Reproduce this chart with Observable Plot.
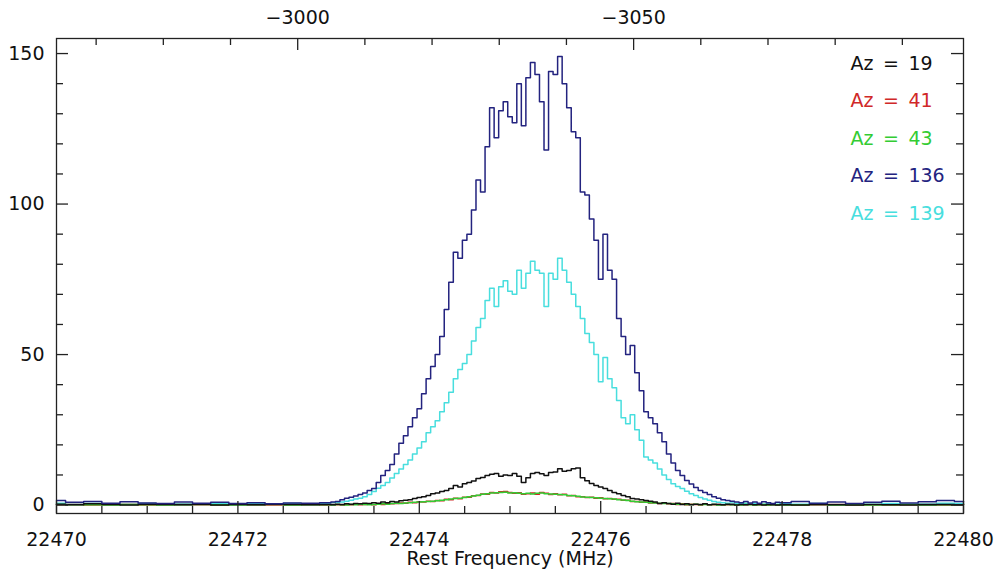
<!DOCTYPE html>
<html>
<head>
<meta charset="utf-8">
<script src="https://cdn.jsdelivr.net/npm/d3@7"></script>
<script src="https://cdn.jsdelivr.net/npm/@observablehq/plot@0.6"></script>
<style>
  html, body { margin: 0; padding: 0; background: #fff; }
</style>
</head>
<body>
<div id="chart"></div>
<script>
// ---------- DATA ----------
// Series names (azimuth) and colours
const seriesNames = ["Az = 139", "Az = 41", "Az = 43", "Az = 19", "Az = 136"];
const legendOrder = ["Az = 19", "Az = 41", "Az = 43", "Az = 136", "Az = 139"];
const seriesColors = {
  "Az = 19": "#111111",
  "Az = 41": "#d02828",
  "Az = 43": "#33cc33",
  "Az = 136": "#23237f",
  "Az = 139": "#48dede"
};

// Channel grids (MHz): coarse baseline channels on both sides, fine channels in the line core
const leftBaseStart = 22470, leftBaseStep = 0.2, leftBaseCount = 15;
const coreStart = 22473, coreStep = 0.05, coreCount = 100;
const rightBaseStart = 22478, rightBaseStep = 0.2, rightBaseCount = 11;

// Az = 136 (dark blue)
const az136Left = [1.5, 0.9, 1.2, 0.6, 1.1, 0.7, 0.5, 1.0, 0.6, 0.9, 0.5, 0.8, 0.4, 0.7, 0.6];
const az136Core = [
  0.8, 1.0, 1.2, 1.8, 2.3, 2.6, 3.0, 3.5, 4.0, 4.8,
  5.5, 7.5, 9.8, 11.5, 13.5, 17, 20.5, 23, 26, 29,
  32, 37, 42, 46, 50, 56, 65, 74, 84, 82,
  88, 90, 98, 108, 104, 119, 132, 122, 131, 134,
  129, 127, 140, 126, 142, 147, 143, 134, 118, 144,
  143, 149, 140, 132, 124, 122, 104, 103, 95, 88,
  75, 90, 78, 75, 62, 56, 50, 53, 44, 38,
  31, 29, 27, 24, 21, 17, 14, 11.5, 9.8, 8.2,
  7.0, 5.8, 4.8, 4.2, 3.5, 2.8, 2.3, 1.8, 1.5, 1.3,
  1.0, 0.8, 1.2, 0.7, 1.0, 0.6, 1.1, 0.8, 0.5, 0.9
];
const az136Right = [0.8, 1.2, 0.6, 1.0, 0.5, 0.9, 1.3, 0.7, 1.1, 1.5, 1.2];

// Az = 139 (cyan)
const az139Left = [0.6, 0.3, 0.5, 0.4, 0.2, 0.5, 0.3, 0.4, 0.2, 0.5, 0.3, 0.4, 0.3, 0.5, 0.4];
const az139Core = [
  0.6, 0.8, 0.9, 1.0, 1.3, 1.6, 2.0, 2.3, 2.8, 3.5,
  4.5, 5.6, 6.5, 7.5, 9.0, 10.5, 12, 13.5, 15, 17,
  19, 21, 24, 26, 28, 31, 34, 37.5, 42, 45,
  47, 50, 54.5, 59, 62, 68, 72, 66, 72.5, 74.5,
  71, 70, 78, 72, 77, 81, 78, 77, 66, 77,
  75, 82, 78, 74, 70, 66, 62, 57, 54, 50,
  41, 49, 42, 39, 34.7, 29, 27, 30, 25, 21.5,
  16, 15, 14, 12, 10, 8.5, 7.1, 6.2, 5.5, 4.6,
  3.8, 3.2, 2.5, 2.0, 1.6, 1.2, 0.9, 0.8, 0.6, 0.7,
  0.5, 0.4, 0.6, 0.3, 0.5, 0.4, 0.3, 0.5, 0.4, 0.3
];
const az139Right = [0.4, 0.3, 0.5, 0.2, 0.4, 0.3, 0.5, 0.3, 0.4, 0.6, 0.5];

// Az = 19 (black)
const az19Left = [0.3, 0.1, 0.4, 0.2, 0.0, 0.3, 0.2, 0.1, 0.3, 0.0, 0.2, 0.1, 0.3, 0.2, 0.1];
const az19Core = [
  0.2, 0.1, 0.3, 0.2, 0.4, 0.3, 0.5, 0.4, 0.6, 0.5,
  0.8, 0.6, 1.0, 0.8, 1.2, 1.0, 1.4, 1.6, 1.8, 2.2,
  2.5, 2.8, 3.2, 3.8, 4.0, 4.5, 4.8, 5.5, 6.5, 6.0,
  7.1, 7.5, 8.0, 8.8, 9.2, 9.8, 10.2, 10.5, 9.6, 10.0,
  9.8, 10.5, 9.6, 7.5, 9.1, 10.5, 10.8, 10.4, 9.8, 10.8,
  11.0, 12.1, 11.2, 11.5, 12.1, 12.3, 9.1, 8.1, 7.2, 6.5,
  6.0, 5.5, 4.8, 4.2, 3.8, 3.2, 2.8, 2.2, 2.0, 1.8,
  1.5, 1.3, 1.0, 0.5, 0.8, 0.5, 0.3, 0.6, 0.2, 0.4,
  0.1, 0.3, 0.2, 0.4, 0.1, 0.3, 0.2, 0.1, 0.3, 0.2,
  0.0, 0.2, 0.1, 0.3, 0.1, 0.2, 0.0, 0.2, 0.1, 0.0
];
const az19Right = [0.1, 0.0, 0.2, 0.1, 0.0, 0.2, 0.1, 0.0, 0.1, 0.2, 0.1];

// Az = 41 (red)
const az41Left = [0.1, 0.2, 0.0, 0.1, 0.2, 0.0, 0.1, 0.2, 0.1, 0.0, 0.2, 0.1, 0.0, 0.1, 0.2];
const az41Core = [
  0.0, 0.2, 0.1, 0.0, 0.2, 0.1, 0.3, 0.1, 0.2, 0.3,
  0.1, 0.4, 0.2, 0.5, 0.4, 0.5, 0.7, 0.6, 0.9, 0.8,
  1.1, 1.0, 1.3, 1.2, 1.5, 1.4, 1.9, 1.8, 2.3, 2.1,
  2.6, 2.6, 3.1, 3.2, 3.7, 3.6, 4.2, 4.0, 4.4, 4.5,
  4.2, 3.9, 4.1, 3.6, 3.8, 4.0, 3.6, 4.2, 3.9, 3.5,
  3.8, 3.4, 3.6, 3.1, 3.2, 2.8, 2.8, 2.5, 2.6, 2.3,
  2.4, 2.1, 2.2, 1.9, 1.9, 1.6, 1.6, 1.2, 1.2, 0.9,
  1.0, 0.7, 0.8, 0.5, 0.6, 0.4, 0.5, 0.2, 0.4, 0.1,
  0.3, 0.2, 0.0, 0.3, 0.1, 0.1, 0.2, 0.0, 0.1, 0.2,
  0.0, 0.1, 0.1, 0.2, 0.0, 0.1, 0.1, 0.0, 0.2, 0.0
];
const az41Right = [0.1, 0.0, 0.1, 0.2, 0.0, 0.1, 0.0, 0.1, 0.2, 0.0, 0.1];

// Az = 43 (green)
const az43Left = [0.2, 0.1, 0.1, 0.0, 0.2, 0.1, 0.0, 0.1, 0.2, 0.1, 0.0, 0.1, 0.2, 0.0, 0.1];
const az43Core = [
  0.1, 0.0, 0.2, 0.1, 0.0, 0.2, 0.1, 0.3, 0.2, 0.1,
  0.2, 0.3, 0.4, 0.3, 0.5, 0.6, 0.5, 0.7, 0.8, 0.9,
  1.0, 1.1, 1.2, 1.3, 1.4, 1.6, 1.8, 2.0, 2.2, 2.3,
  2.5, 2.8, 3.0, 3.3, 3.6, 3.8, 4.0, 4.1, 4.2, 4.3,
  4.0, 4.1, 3.9, 3.8, 3.9, 3.7, 3.9, 4.0, 3.8, 3.7,
  3.6, 3.5, 3.4, 3.2, 3.1, 2.9, 2.7, 2.6, 2.5, 2.4,
  2.3, 2.2, 2.1, 2.0, 1.8, 1.7, 1.5, 1.3, 1.1, 1.0,
  0.9, 0.8, 0.7, 0.6, 0.5, 0.5, 0.4, 0.3, 0.3, 0.2,
  0.2, 0.3, 0.1, 0.2, 0.1, 0.2, 0.0, 0.1, 0.2, 0.1,
  0.1, 0.0, 0.2, 0.1, 0.0, 0.1, 0.2, 0.0, 0.1, 0.1
];
const az43Right = [0.0, 0.1, 0.2, 0.0, 0.1, 0.0, 0.1, 0.2, 0.0, 0.1, 0.1];

// Axis ticks
const xMajorTicks = [22470, 22472, 22474, 22476, 22478, 22480];
const xMinorTicks = [22470.5, 22471, 22471.5, 22472.5, 22473, 22473.5, 22474.5, 22475, 22475.5,
                     22476.5, 22477, 22477.5, 22478.5, 22479, 22479.5];
const yMajorTicks = [0, 50, 100, 150];
const yMinorTicks = [10, 20, 30, 40, 60, 70, 80, 90, 110, 120, 130, 140];
// Top axis: velocity (km/s)
const velocityDomain = [-2964.1, -3099.1];
const velMajorTicks = [-3000, -3050];
const velMinorTicks = [-2970, -2980, -2990, -3010, -3020, -3030, -3040, -3060, -3070, -3080, -3090];
const xLabel = "Rest Frequency (MHz)";

// ---------- BUILD ----------
const channelFreqs = (start, step, n) => d3.range(n).map(i => +(start + i * step).toFixed(3));
const leftF = channelFreqs(leftBaseStart, leftBaseStep, leftBaseCount);
const coreF = channelFreqs(coreStart, coreStep, coreCount);
const rightF = channelFreqs(rightBaseStart, rightBaseStep, rightBaseCount);
const freqs = [...leftF, ...coreF, ...rightF];

const seriesValues = {
  "Az = 19": [...az19Left, ...az19Core, ...az19Right],
  "Az = 41": [...az41Left, ...az41Core, ...az41Right],
  "Az = 43": [...az43Left, ...az43Core, ...az43Right],
  "Az = 136": [...az136Left, ...az136Core, ...az136Right],
  "Az = 139": [...az139Left, ...az139Core, ...az139Right]
};

const vel2freq = d3.scaleLinear().domain(velocityDomain).range([22470, 22480]);

const W = 1000, H = 575;
const mL = 56, mR = 37, mT = 38, mB = 62;
const innerW = W - mL - mR, innerH = H - mT - mB;
const majorLen = 12, minorLen = 7;
const fontFamily = "DejaVu Sans, Liberation Sans, sans-serif";
const fs = 19;
const ink = "#111";
const axisInk = "#222";

const marks = [];
// spectra
for (const name of seriesNames) {
  const vals = seriesValues[name];
  const data = freqs.map((f, i) => ({f, v: vals[i]}));
  marks.push(Plot.line(data, {x: "f", y: "v", curve: "step", stroke: seriesColors[name], strokeWidth: 1.5}));
}
// frame
marks.push(Plot.frame({stroke: axisInk, strokeWidth: 1.3}));
// bottom ticks
marks.push(Plot.tickX(xMajorTicks, {x: d => d, insetTop: innerH - majorLen, stroke: axisInk, strokeWidth: 1.3}));
marks.push(Plot.tickX(xMinorTicks, {x: d => d, insetTop: innerH - minorLen, stroke: axisInk, strokeWidth: 1.3}));
// top ticks (velocity)
marks.push(Plot.tickX(velMajorTicks, {x: d => vel2freq(d), insetBottom: innerH - majorLen, stroke: axisInk, strokeWidth: 1.3}));
marks.push(Plot.tickX(velMinorTicks, {x: d => vel2freq(d), insetBottom: innerH - minorLen, stroke: axisInk, strokeWidth: 1.3}));
// left & right ticks
marks.push(Plot.tickY(yMajorTicks, {y: d => d, insetRight: innerW - majorLen, stroke: axisInk, strokeWidth: 1.3}));
marks.push(Plot.tickY(yMinorTicks, {y: d => d, insetRight: innerW - minorLen, stroke: axisInk, strokeWidth: 1.3}));
marks.push(Plot.tickY(yMajorTicks, {y: d => d, insetLeft: innerW - majorLen, stroke: axisInk, strokeWidth: 1.3}));
marks.push(Plot.tickY(yMinorTicks, {y: d => d, insetLeft: innerW - minorLen, stroke: axisInk, strokeWidth: 1.3}));
// tick labels
marks.push(Plot.text(xMajorTicks, {x: d => d, text: d => String(d), frameAnchor: "bottom", dy: 19, lineAnchor: "top", fontSize: fs, fill: ink}));
marks.push(Plot.text(yMajorTicks, {y: d => d, text: d => String(d), frameAnchor: "left", dx: -12, textAnchor: "end", fontSize: fs, fill: ink}));
marks.push(Plot.text(velMajorTicks, {x: d => vel2freq(d), text: d => "\u2212" + Math.abs(d), frameAnchor: "top", dy: -15, lineAnchor: "bottom", fontSize: fs, fill: ink}));
// axis title
marks.push(Plot.text([xLabel], {text: d => d, frameAnchor: "bottom", dy: 38, lineAnchor: "top", fontSize: fs, fill: ink}));
// legend
legendOrder.forEach((name, i) => {
  const label = name.replace(" = ", "\u2002=\u2002");
  marks.push(Plot.text([label], {text: d => d, frameAnchor: "top-right", dx: -113, dy: 25 + i * 37.5,
    textAnchor: "start", lineAnchor: "middle", fontSize: fs, fill: seriesColors[name]}));
});

const chart = Plot.plot({
  width: W,
  height: H,
  marginLeft: mL,
  marginRight: mR,
  marginTop: mT,
  marginBottom: mB,
  x: {domain: [22470, 22480], axis: null},
  y: {domain: [-2.8, 155], axis: null},
  style: {background: "#fff", fontFamily, fontSize: fs + "px", color: ink},
  marks
});
document.getElementById("chart").appendChild(chart);
</script>
</body>
</html>
